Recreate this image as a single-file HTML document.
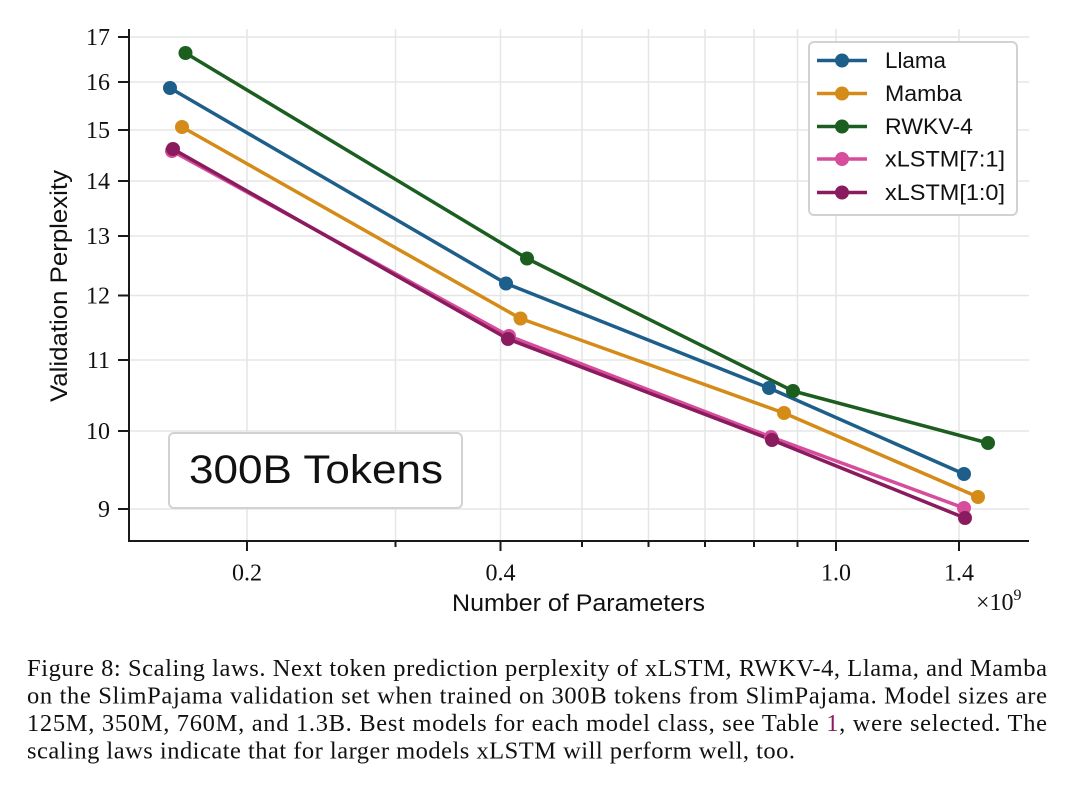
<!DOCTYPE html>
<html>
<head>
<meta charset="utf-8">
<style>
html,body{margin:0;padding:0;background:#fff;}
svg{display:block;}
</style>
</head>
<body>
<svg width="1080" height="785" viewBox="0 0 1080 785" xmlns="http://www.w3.org/2000/svg">
<rect x="0" y="0" width="1080" height="785" fill="#fff"/>
<!-- grid -->
<g stroke="#e6e6e6" stroke-width="1.6">
  <line x1="129" y1="37" x2="1029" y2="37"/>
  <line x1="129" y1="82" x2="1029" y2="82"/>
  <line x1="129" y1="130" x2="1029" y2="130"/>
  <line x1="129" y1="181" x2="1029" y2="181"/>
  <line x1="129" y1="236" x2="1029" y2="236"/>
  <line x1="129" y1="295.5" x2="1029" y2="295.5"/>
  <line x1="129" y1="360" x2="1029" y2="360"/>
  <line x1="129" y1="431" x2="1029" y2="431"/>
  <line x1="129" y1="509" x2="1029" y2="509"/>
  <line x1="247" y1="29" x2="247" y2="541"/>
  <line x1="395.5" y1="29" x2="395.5" y2="541"/>
  <line x1="500.5" y1="29" x2="500.5" y2="541"/>
  <line x1="582" y1="29" x2="582" y2="541"/>
  <line x1="648.5" y1="29" x2="648.5" y2="541"/>
  <line x1="705" y1="29" x2="705" y2="541"/>
  <line x1="754" y1="29" x2="754" y2="541"/>
  <line x1="797.5" y1="29" x2="797.5" y2="541"/>
  <line x1="836" y1="29" x2="836" y2="541"/>
  <line x1="959" y1="29" x2="959" y2="541"/>
</g>
<!-- spines -->
<g stroke="#1a1a1a" stroke-width="2">
  <line x1="129" y1="29" x2="129" y2="542"/>
  <line x1="128" y1="541" x2="1029" y2="541"/>
  <line x1="118" y1="37" x2="129" y2="37"/>
  <line x1="118" y1="82" x2="129" y2="82"/>
  <line x1="118" y1="130" x2="129" y2="130"/>
  <line x1="118" y1="181" x2="129" y2="181"/>
  <line x1="118" y1="236" x2="129" y2="236"/>
  <line x1="118" y1="295.5" x2="129" y2="295.5"/>
  <line x1="118" y1="360" x2="129" y2="360"/>
  <line x1="118" y1="431" x2="129" y2="431"/>
  <line x1="118" y1="509" x2="129" y2="509"/>
  <line x1="247" y1="541" x2="247" y2="551"/>
  <line x1="500.5" y1="541" x2="500.5" y2="551"/>
  <line x1="836" y1="541" x2="836" y2="551"/>
  <line x1="959" y1="541" x2="959" y2="551"/>
  <line x1="395.5" y1="541" x2="395.5" y2="547"/>
  <line x1="582" y1="541" x2="582" y2="547"/>
  <line x1="648.5" y1="541" x2="648.5" y2="547"/>
  <line x1="705" y1="541" x2="705" y2="547"/>
  <line x1="754" y1="541" x2="754" y2="547"/>
  <line x1="797.5" y1="541" x2="797.5" y2="547"/>
</g>
<!-- tick labels -->
<g font-family="'Liberation Serif', serif" font-size="24" fill="#111" text-anchor="end">
  <text x="110" y="45">17</text>
  <text x="110" y="90">16</text>
  <text x="110" y="138">15</text>
  <text x="110" y="189">14</text>
  <text x="110" y="244">13</text>
  <text x="110" y="303.5">12</text>
  <text x="110" y="368">11</text>
  <text x="110" y="439">10</text>
  <text x="110" y="517">9</text>
</g>
<g font-family="'Liberation Serif', serif" font-size="24" fill="#111" text-anchor="middle">
  <text x="247" y="580.5">0.2</text>
  <text x="500.5" y="580.5">0.4</text>
  <text x="836" y="580.5">1.0</text>
  <text x="959" y="580.5">1.4</text>
</g>
<text x="976" y="610" font-family="'Liberation Serif', serif" font-size="24" fill="#111">×10<tspan font-size="16" dy="-10">9</tspan></text>
<!-- axis labels -->
<text x="452" y="611" font-family="'Liberation Sans', sans-serif" font-size="24" fill="#111" textLength="253" lengthAdjust="spacingAndGlyphs">Number of Parameters</text>
<text transform="translate(67,286) rotate(-90)" x="0" y="0" text-anchor="middle" font-family="'Liberation Sans', sans-serif" font-size="24" fill="#111" textLength="232" lengthAdjust="spacingAndGlyphs">Validation Perplexity</text>
<!-- 300B Tokens box -->
<rect x="169" y="433" width="293" height="75" rx="5" fill="#fff" stroke="#d2d2d2" stroke-width="2"/>
<text x="189" y="483" font-family="'Liberation Sans', sans-serif" font-size="40" fill="#111" textLength="254" lengthAdjust="spacingAndGlyphs">300B Tokens</text>
<!-- series -->
<g fill="none" stroke-width="3.5" stroke-linejoin="round">
  <polyline stroke="#1d5f8a" points="170,88 506,283.5 769,388 964,474"/>
  <polyline stroke="#d48b17" points="182,127 520.5,318.5 784,413 978,497"/>
  <polyline stroke="#1b5e20" points="185.5,53 527,258.5 793,391 988,443"/>
  <polyline stroke="#d64d9b" points="172,151 509,336 771,437 964,508"/>
  <polyline stroke="#8a1b5e" points="173,149 508,339 772,440 965,518"/>
</g>
<g fill="#1d5f8a"><circle cx="170" cy="88" r="7"/><circle cx="506" cy="283.5" r="7"/><circle cx="769" cy="388" r="7"/><circle cx="964" cy="474" r="7"/></g>
<g fill="#d48b17"><circle cx="182" cy="127" r="7"/><circle cx="520.5" cy="318.5" r="7"/><circle cx="784" cy="413" r="7"/><circle cx="978" cy="497" r="7"/></g>
<g fill="#1b5e20"><circle cx="185.5" cy="53" r="7"/><circle cx="527" cy="258.5" r="7"/><circle cx="793" cy="391" r="7"/><circle cx="988" cy="443" r="7"/></g>
<g fill="#d64d9b"><circle cx="172" cy="151" r="7"/><circle cx="509" cy="336" r="7"/><circle cx="771" cy="437" r="7"/><circle cx="964" cy="508" r="7"/></g>
<g fill="#8a1b5e"><circle cx="173" cy="149" r="7"/><circle cx="508" cy="339" r="7"/><circle cx="772" cy="440" r="7"/><circle cx="965" cy="518" r="7"/></g>
<!-- legend -->
<rect x="809" y="42" width="208" height="173" rx="5" fill="#fff" stroke="#d2d2d2" stroke-width="2"/>
<g stroke-width="3.5">
  <line x1="817" y1="60.5" x2="867" y2="60.5" stroke="#1d5f8a"/>
  <line x1="817" y1="93.5" x2="867" y2="93.5" stroke="#d48b17"/>
  <line x1="817" y1="126.5" x2="867" y2="126.5" stroke="#1b5e20"/>
  <line x1="817" y1="159" x2="867" y2="159" stroke="#d64d9b"/>
  <line x1="817" y1="192.5" x2="867" y2="192.5" stroke="#8a1b5e"/>
</g>
<circle cx="842" cy="60.5" r="7" fill="#1d5f8a"/>
<circle cx="842" cy="93.5" r="7" fill="#d48b17"/>
<circle cx="842" cy="126.5" r="7" fill="#1b5e20"/>
<circle cx="842" cy="159" r="7" fill="#d64d9b"/>
<circle cx="842" cy="192.5" r="7" fill="#8a1b5e"/>
<g font-family="'Liberation Sans', sans-serif" font-size="22" fill="#111" lengthAdjust="spacingAndGlyphs">
  <text x="885" y="68" textLength="61" lengthAdjust="spacingAndGlyphs">Llama</text>
  <text x="885" y="101" textLength="77" lengthAdjust="spacingAndGlyphs">Mamba</text>
  <text x="885" y="134" textLength="88" lengthAdjust="spacingAndGlyphs">RWKV-4</text>
  <text x="885" y="166.5" textLength="120" lengthAdjust="spacingAndGlyphs">xLSTM[7:1]</text>
  <text x="885" y="200" textLength="120" lengthAdjust="spacingAndGlyphs">xLSTM[1:0]</text>
</g>
<!-- caption -->
<g font-family="'Liberation Serif', serif" font-size="24.5" fill="#111">
  <text x="27" y="676" textLength="1020" lengthAdjust="spacing">Figure 8: Scaling laws. Next token prediction perplexity of xLSTM, RWKV-4, Llama, and Mamba</text>
  <text x="27" y="703.5" textLength="1020" lengthAdjust="spacing">on the SlimPajama validation set when trained on 300B tokens from SlimPajama. Model sizes are</text>
  <text x="27" y="731" textLength="1020" lengthAdjust="spacing">125M, 350M, 760M, and 1.3B. Best models for each model class, see Table <tspan fill="#8a1b5e">1</tspan>, were selected. The</text>
  <text x="27" y="758.5" textLength="768" lengthAdjust="spacing">scaling laws indicate that for larger models xLSTM will perform well, too.</text>
</g>
</svg>
</body>
</html>
